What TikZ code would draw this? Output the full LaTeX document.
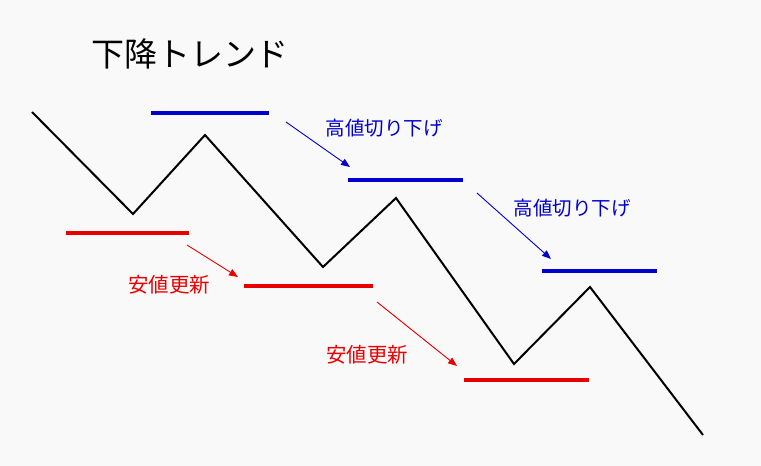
\documentclass[tikz,border=0pt]{standalone}
\usepackage{fontspec}
\setmainfont{Noto Sans CJK JP}
\usetikzlibrary{arrows.meta}
\definecolor{bg}{HTML}{F9F9F9}
\definecolor{hiblue}{HTML}{0000CC}
\definecolor{lored}{HTML}{E80000}
\tikzset{
  price/.style={draw=black, line width=2pt, line join=miter},
  highline/.style={draw=hiblue, line width=3.2pt},
  lowline/.style={draw=lored, line width=3.2pt},
  hiarrow/.style={draw=hiblue, line width=0.9pt, -{Triangle[length=9pt,width=7pt]}},
  loarrow/.style={draw=lored, line width=0.9pt, -{Triangle[length=9pt,width=7pt]}},
  hilabel/.style={text=hiblue, font=\fontsize{19.5}{22}\selectfont, inner sep=0pt},
  lolabel/.style={text=lored, font=\fontsize{20.5}{22}\selectfont, inner sep=0pt},
}
\begin{document}
\begin{tikzpicture}[x=1pt,y=-1pt]
\fill[bg] (0,0) rectangle (761,466);
\useasboundingbox (0,0) rectangle (761,466);
% title
\node[font=\fontsize{33}{36}\selectfont, inner sep=0pt] (title) at (190,54) {下降トレンド};
% zigzag
\coordinate (p0) at (32,112);
\coordinate (p1) at (133,214);
\coordinate (p2) at (205,135);
\coordinate (p3) at (323,267);
\coordinate (p4) at (396,198);
\coordinate (p5) at (514,364);
\coordinate (p6) at (590,287);
\coordinate (p7) at (703,435);
\draw[price] (p0) -- (p1) -- (p2) -- (p3) -- (p4) -- (p5) -- (p6) -- (p7);
% high lines
\coordinate (h1a) at (151,113); \coordinate (h1b) at (269,113);
\coordinate (h2a) at (348,180); \coordinate (h2b) at (463,180);
\coordinate (h3a) at (542,271); \coordinate (h3b) at (657,271);
\draw[highline] (h1a) -- (h1b);
\draw[highline] (h2a) -- (h2b);
\draw[highline] (h3a) -- (h3b);
% low lines
\coordinate (l1a) at (66,233); \coordinate (l1b) at (189,233);
\coordinate (l2a) at (244,286); \coordinate (l2b) at (373,286);
\coordinate (l3a) at (464,380); \coordinate (l3b) at (589,380);
\draw[lowline] (l1a) -- (l1b);
\draw[lowline] (l2a) -- (l2b);
\draw[lowline] (l3a) -- (l3b);
% arrows
\coordinate (ha1s) at (286,122); \coordinate (ha1e) at (350,167);
\coordinate (ha2s) at (477,193); \coordinate (ha2e) at (551,259);
\coordinate (la1s) at (187,245); \coordinate (la1e) at (238,277);
\coordinate (la2s) at (377,302); \coordinate (la2e) at (457,366);
\draw[hiarrow] (ha1s) -- (ha1e);
\draw[hiarrow] (ha2s) -- (ha2e);
\draw[loarrow] (la1s) -- (la1e);
\draw[loarrow] (la2s) -- (la2e);
% labels
\node[hilabel] (hl1) at (384,128) {高値切り下げ};
\node[hilabel] (hl2) at (572,208) {高値切り下げ};
\node[lolabel] (ll1) at (169,285) {安値更新};
\node[lolabel] (ll2) at (367,355) {安値更新};
\end{tikzpicture}
\end{document}
